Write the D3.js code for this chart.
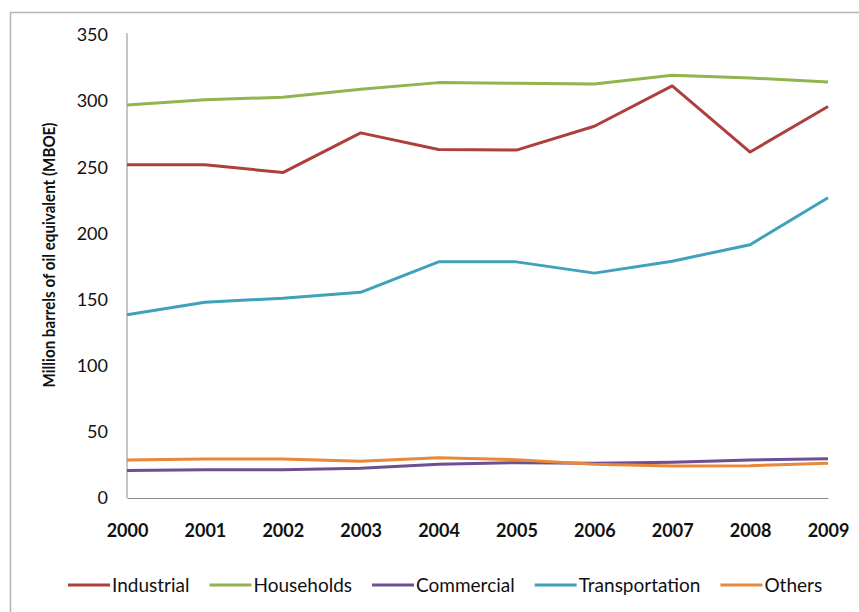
<!DOCTYPE html>
<html>
<head>
<meta charset="utf-8">
<script src="https://cdn.jsdelivr.net/npm/d3@7/dist/d3.min.js"></script>
<style>
  html, body { margin: 0; padding: 0; background: #fff; }
  svg { display: block; }
  text { font-family: Lato, "Open Sans", sans-serif; fill: #111; }
</style>
</head>
<body>
<svg id="chart" width="859" height="612"></svg>
<script>
// Energy consumption by sector, million barrels of oil equivalent
const years = [2000, 2001, 2002, 2003, 2004, 2005, 2006, 2007, 2008, 2009];
const industrial     = [252, 252, 246, 276, 263.5, 263, 281, 311.5, 261.5, 296];
const households     = [297, 301, 303, 309, 314, 313.5, 313, 319.5, 317.5, 314.5];
const commercial     = [20.7, 21.4, 21.4, 22.4, 25.5, 26.7, 26.2, 27, 28.7, 29.7];
const transportation = [138.5, 148, 151, 155.5, 178.5, 178.5, 170, 179, 191.5, 227];
const others         = [28.7, 29.5, 29.5, 27.7, 30.5, 29, 25.5, 24.2, 24.4, 26.2];
const yTicks = [0, 50, 100, 150, 200, 250, 300, 350];

const seriesNames = ["Industrial", "Households", "Commercial", "Transportation", "Others"];
const seriesValues = [industrial, households, commercial, transportation, others];
const seriesColors = ["#AD3F3C", "#92B450", "#6E4F93", "#3FA2BA", "#E9873A"];

const svg = d3.select("#chart");

// outer chart frame
svg.append("rect")
  .attr("x", 10.5).attr("y", 12.5)
  .attr("width", 870).attr("height", 620)
  .attr("fill", "none").attr("stroke", "#b4b4b4").attr("stroke-width", 1.5);

const x = d3.scalePoint().domain(years).range([127, 828]);
const y = d3.scaleLinear().domain([0, 350]).range([498, 35]);

// y axis
const yAxis = svg.append("g")
  .attr("transform", "translate(127,0)")
  .call(d3.axisLeft(y).tickValues(yTicks).tickSize(0).tickPadding(19));
yAxis.select(".domain").attr("stroke", "#8c8c8c").attr("stroke-width", 1)
  .attr("d", `M0,${y(350) - 2}V${y(0)}`);
yAxis.selectAll("text").attr("font-size", 18).style("font-family", "Lato, sans-serif");

// x axis
const xAxis = svg.append("g")
  .attr("transform", `translate(0,${y(0)})`)
  .call(d3.axisBottom(x).tickFormat(d3.format("d")).tickSize(0).tickPadding(26));
xAxis.select(".domain").attr("stroke", "#8c8c8c").attr("stroke-width", 1);
xAxis.selectAll("text").attr("font-size", 18).attr("font-weight", "bold")
  .style("font-family", "Lato, sans-serif");

// y axis title
svg.append("text")
  .attr("transform", "translate(55,255) rotate(-90)")
  .attr("text-anchor", "middle")
  .attr("font-size", 17.5).attr("font-weight", "bold")
  .attr("textLength", 265).attr("lengthAdjust", "spacingAndGlyphs")
  .text("Million barrels of oil equivalent (MBOE)");

// series lines
const line = d3.line().x((d, i) => x(years[i])).y(d => y(d));
seriesValues.forEach((vals, k) => {
  svg.append("path")
    .datum(vals)
    .attr("fill", "none")
    .attr("stroke", seriesColors[k])
    .attr("stroke-width", 3)
    .attr("stroke-linejoin", "round")
    .attr("d", line);
});

// legend
const legend = svg.append("g").attr("transform", "translate(0,585)");
let cx = 68;
seriesNames.forEach((name, k) => {
  const g = legend.append("g").attr("transform", `translate(${cx},0)`);
  g.append("line").attr("x1", 0).attr("x2", 42).attr("y1", 0).attr("y2", 0)
    .attr("stroke", seriesColors[k]).attr("stroke-width", 3);
  const t = g.append("text").attr("x", 44).attr("y", 6.5)
    .attr("font-size", 19).text(name);
  cx += 44 + t.node().getComputedTextLength() + 20;
});
</script>
</body>
</html>
